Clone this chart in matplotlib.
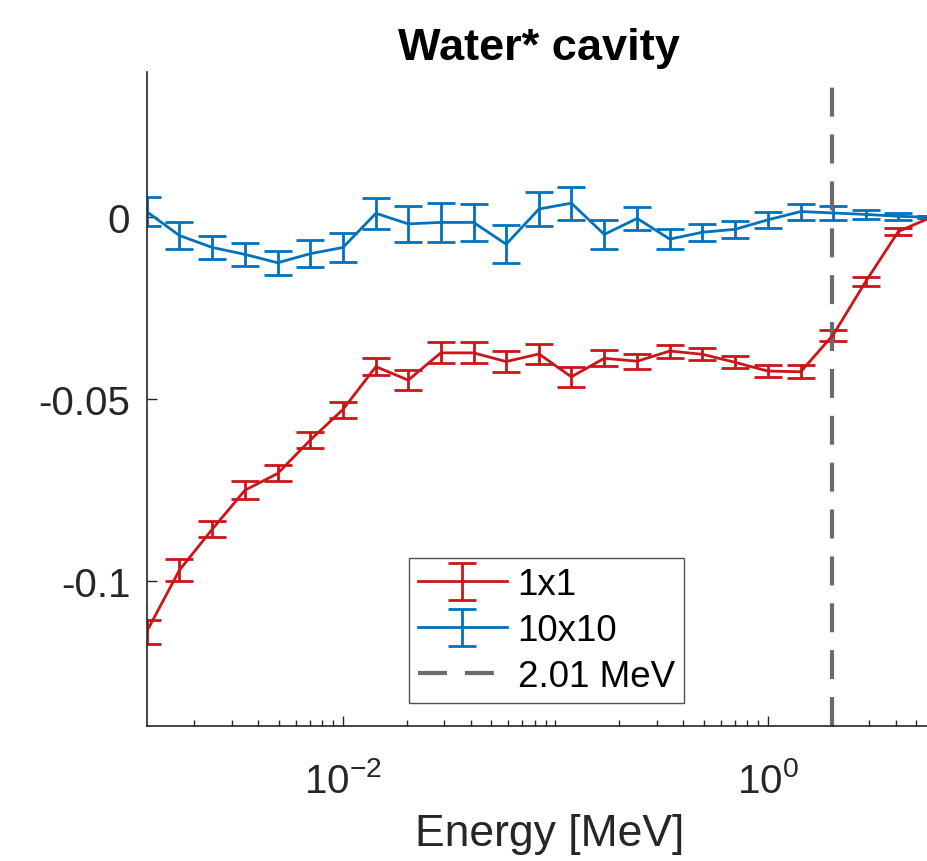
import matplotlib
matplotlib.use('Agg')
import matplotlib.pyplot as plt
from matplotlib.ticker import FixedLocator, LogLocator, NullFormatter

plt.rcParams['font.family'] = ['Liberation Sans', 'DejaVu Sans']
plt.rcParams['axes.unicode_minus'] = False

# energies [MeV] (bin centres)
energy = [0.00119, 0.0017, 0.00243, 0.00346, 0.00493, 0.00702, 0.01, 0.0143,
          0.0203, 0.0289, 0.0412, 0.0587, 0.0838, 0.119, 0.170, 0.243, 0.346,
          0.493, 0.702, 1.0, 1.43, 2.03, 2.89, 4.12, 5.87]

# 1x1 field
val_1x1 = [-0.1141, -0.0971, -0.0858, -0.0751, -0.0705, -0.0613, -0.0529, -0.0411,
           -0.0448, -0.0373, -0.0373, -0.0397, -0.0376, -0.0439, -0.0388, -0.0396,
           -0.0368, -0.0377, -0.0399, -0.0423, -0.0425, -0.0324, -0.0177, -0.0039, 0.0]
err_1x1 = [0.0032, 0.0031, 0.0023, 0.0024, 0.0022, 0.0023, 0.0022, 0.0024,
           0.0028, 0.0029, 0.0029, 0.0029, 0.0028, 0.0028, 0.0022, 0.0021,
           0.0018, 0.0017, 0.0017, 0.0017, 0.0018, 0.0015, 0.0012, 0.0009, 0.0003]

# 10x10 field
val_10x10 = [0.0016, -0.0050, -0.0083, -0.0102, -0.0125, -0.0100, -0.0083, 0.0011,
             -0.0018, -0.0014, -0.0014, -0.0074, 0.0023, 0.0039, -0.0047, -0.0003,
             -0.0060, -0.0041, -0.0033, -0.0007, 0.0016, 0.0012, 0.0008, 0.0003, 0.0]
err_10x10 = [0.0039, 0.0038, 0.0032, 0.0032, 0.0033, 0.0037, 0.0041, 0.0042,
             0.0049, 0.0054, 0.0050, 0.0052, 0.0047, 0.0045, 0.0039, 0.0032,
             0.0027, 0.0024, 0.0024, 0.0023, 0.0022, 0.0018, 0.0013, 0.0009, 0.0003]

threshold = 2.01
yticks = [-0.1, -0.05, 0]
ytick_labels = ['-0.1', '-0.05', '0']

red = '#CC1518'
blue = '#0072BD'
axcol = '#262626'

fig = plt.figure(figsize=(9.28, 8.62), dpi=100)
ax = fig.add_axes([147 / 928, 1 - 727 / 862, 784 / 928, 654 / 862])

h1 = ax.errorbar(energy, val_1x1, yerr=err_1x1, color=red, lw=2,
                 capsize=10, capthick=2, label='1x1')
h2 = ax.errorbar(energy, val_10x10, yerr=err_10x10, color=blue, lw=2,
                 capsize=10, capthick=2, label='10x10')
h3 = ax.axvline(threshold, color='#6b6b6b', lw=3, dashes=(6.95, 4.3),
                label='2.01 MeV')

ax.set_xscale('log')
ax.set_xlim(0.001196, 5.87)
ax.set_ylim(-0.14, 0.04)

ax.xaxis.set_major_locator(FixedLocator([1e-2, 1e0]))
ax.set_xticklabels([r'$\mathdefault{10^{-2}}$', r'$\mathdefault{10^{0}}$'])
ax.xaxis.set_minor_locator(LogLocator(base=10, subs=range(1, 10), numticks=20))
ax.xaxis.set_minor_formatter(NullFormatter())
ax.set_yticks(yticks)
ax.set_yticklabels(ytick_labels)

ax.tick_params(axis='both', which='major', direction='in', length=7, width=1,
               color=axcol, labelsize=29, labelcolor=axcol)
ax.tick_params(axis='x', which='major', pad=25)
ax.tick_params(axis='y', which='major', pad=12)
ax.tick_params(axis='x', which='minor', direction='in', length=4, width=1,
               color=axcol)

for s in ['top', 'right']:
    ax.spines[s].set_visible(False)
for s in ['left', 'bottom']:
    ax.spines[s].set_color(axcol)
    ax.spines[s].set_linewidth(1.2)

ax.set_xlabel('Energy [MeV]', fontsize=32, color=axcol)
ax.xaxis.set_label_coords(0.514, -0.133)
ax.set_title('Water* cavity', fontsize=32.5, fontweight='bold', pad=9)

leg = ax.legend([h1, h2, h3], ['1x1', '10x10', '2.01 MeV'],
                loc='upper left', bbox_to_anchor=(409 / 928, 1 - 559 / 862),
                bbox_transform=fig.transFigure, borderaxespad=0,
                fontsize=26.5, frameon=True, fancybox=False, edgecolor=axcol,
                handlelength=2.4, handletextpad=0.3, labelspacing=0.3,
                borderpad=0.25)
leg.get_frame().set_linewidth(1)

fig.savefig('out.png', dpi=100)
